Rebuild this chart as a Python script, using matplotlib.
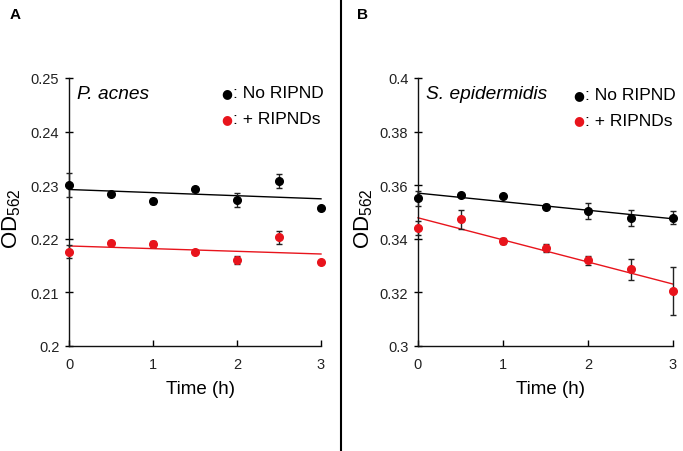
import matplotlib
matplotlib.use("Agg")
import matplotlib.pyplot as plt
import numpy as np
from matplotlib.lines import Line2D

plt.rcParams['font.family'] = ['Liberation Sans', 'DejaVu Sans']
plt.rcParams['mathtext.fontset'] = 'custom'
plt.rcParams['mathtext.rm'] = 'Liberation Sans'
plt.rcParams['mathtext.it'] = 'Liberation Sans:italic'

time_h = [0, 0.5, 1, 1.5, 2, 2.5, 3]

a_none = [0.2300, 0.2284, 0.2270, 0.2293, 0.2272, 0.2307, 0.2257]
a_none_err = [0.0022, 0.0003, 0.0005, 0.0003, 0.0013, 0.0013, 0.0003]
a_rip = [0.2176, 0.2193, 0.2190, 0.2176, 0.2160, 0.2203, 0.2156]
a_rip_err = [0.0012, 0.0003, 0.0005, 0.0003, 0.0007, 0.0012, 0.0003]

b_none = [0.3551, 0.3565, 0.3561, 0.3520, 0.3504, 0.3478, 0.3479]
b_none_err = [0.0029, 0.0004, 0.0004, 0.0010, 0.0029, 0.0030, 0.0024]
b_rip = [0.3441, 0.3473, 0.3392, 0.3366, 0.3320, 0.3286, 0.3205]
b_rip_err = [0.0027, 0.0036, 0.0012, 0.0016, 0.0017, 0.0040, 0.0088]

a_yticks = [0.2, 0.21, 0.22, 0.23, 0.24, 0.25]
a_yticklabels = ['0.2', '0.21', '0.22', '0.23', '0.24', '0.25']
b_yticks = [0.3, 0.32, 0.34, 0.36, 0.38, 0.4]
b_yticklabels = ['0.3', '0.32', '0.34', '0.36', '0.38', '0.4']
xticks = [0, 1, 2, 3]

RED = '#e8141c'
BLACK = '#000000'

fig = plt.figure(figsize=(6.83, 4.52), dpi=100)
axA = fig.add_axes([69/683, 1-347/452, (321-69)/683, (347-79)/452])
axB = fig.add_axes([418/683, 1-347/452, (673-418)/683, (347-79)/452])

def panel(ax, s1, e1, s2, e2, yticks, ylabels, title, ylim):
    x = np.array(time_h)
    for s, e, c in [(s1, e1, BLACK), (s2, e2, RED)]:
        cont = ax.errorbar(x, s, yerr=e, fmt='o', color=c, ms=5.5, ecolor='#222222',
                           elinewidth=1, capsize=2.2, capthick=1, zorder=3)
        for art in cont.get_children():
            art.set_clip_on(False)
        p = np.polyfit(x, s, 1)
        xl = np.array([0, 3])
        ax.plot(xl, np.polyval(p, xl), color=c, lw=1, zorder=2, clip_on=False)
    ax.set_xlim(0, 3)
    ax.set_ylim(*ylim)
    ax.set_xticks(xticks)
    ax.set_xticklabels([str(t) for t in xticks], fontsize=10.5, color='#222222')
    ax.set_yticks(yticks)
    ax.set_yticklabels(ylabels, fontsize=10.5, color='#222222')
    for sp in ['top', 'right']:
        ax.spines[sp].set_visible(False)
    for sp in ['left', 'bottom']:
        ax.spines[sp].set_linewidth(1)
        ax.spines[sp].set_color('#111111')
    ax.tick_params(axis='y', direction='inout', length=6, width=1, pad=4)
    ax.tick_params(axis='x', direction='in', length=4, width=1, pad=8)
    ax.set_xlabel('Time (h)', fontsize=13.5)
    ax.set_ylabel('OD$_{562}$', fontsize=16)
    ax.text(0.03, 0.975, title, transform=ax.transAxes, fontsize=13.8,
            style='italic', va='top', ha='left')

panel(axA, a_none, a_none_err, a_rip, a_rip_err, a_yticks, a_yticklabels,
      'P. acnes', (0.2, 0.25))
panel(axB, b_none, b_none_err, b_rip, b_rip_err, b_yticks, b_yticklabels,
      'S. epidermidis', (0.3, 0.4))
axA.yaxis.set_label_coords(-0.183, 0.48)
axB.yaxis.set_label_coords(-0.169, 0.48)
axA.xaxis.set_label_coords(0.52, -0.128)
axB.xaxis.set_label_coords(0.52, -0.128)

# legends
def legend_text(xd, y1, y2):
    fig.text(xd, y1, '●', color=BLACK, fontsize=9, ha='center', va='center',
             family=['DejaVu Sans'])
    fig.text(xd + 6/683, y1, ': No RIPND', fontsize=12.5, ha='left', va='center')
    fig.text(xd, y2, '●', color=RED, fontsize=9, ha='center', va='center',
             family=['DejaVu Sans'])
    fig.text(xd + 6/683, y2, ': + RIPNDs', fontsize=12.5, ha='left', va='center')

legend_text(227/683, 1-94/452, 1-120/452)
legend_text(579/683, 1-96/452, 1-121/452)

fig.text(10/683, 1-15/452, 'A', fontsize=11, fontweight='bold', ha='left', va='center')
fig.text(357/683, 1-15/452, 'B', fontsize=11, fontweight='bold', ha='left', va='center')

fig.add_artist(Line2D([341/683, 341/683], [0, 1], color='black', lw=1.5,
                      transform=fig.transFigure))

fig.savefig('out.png', dpi=100)
